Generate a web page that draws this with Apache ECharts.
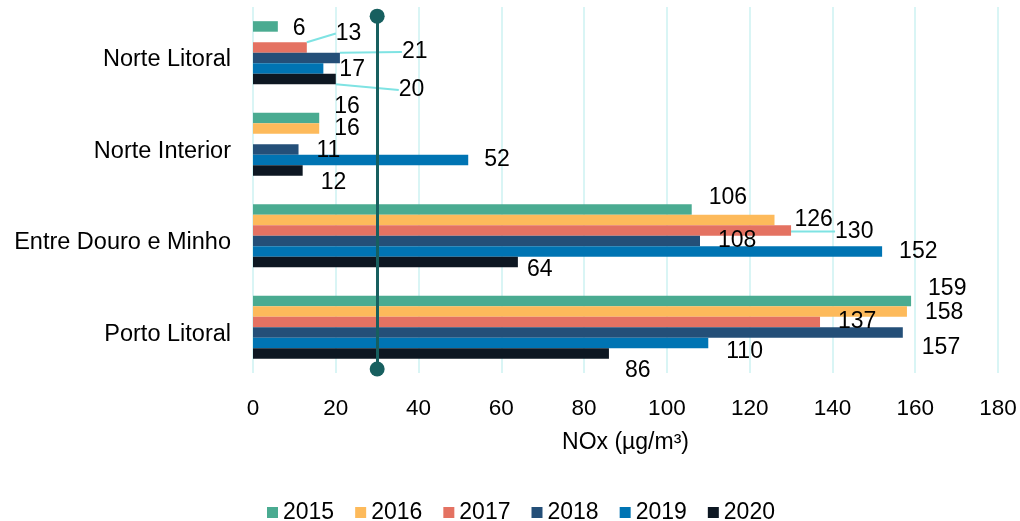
<!DOCTYPE html>
<html><head><meta charset="utf-8">
<script src="https://cdn.jsdelivr.net/npm/echarts@6/dist/echarts.min.js"></script>
<style>html,body{margin:0;padding:0;background:#fff}#c{width:1020px;height:521px}</style>
</head><body><div id="c"></div>
<script>
const categories = ['Norte Litoral', 'Norte Interior', 'Entre Douro e Minho', 'Porto Litoral'];
const years = ['2015', '2016', '2017', '2018', '2019', '2020'];
const v2015 = [6, 16, 106, 159];
const v2016 = [null, 16, 126, 158];
const v2017 = [13, null, 130, 137];
const v2018 = [21, 11, 108, 157];
const v2019 = [17, 52, 152, 110];
const v2020 = [20, 12, 64, 86];
const xTicks = [0, 20, 40, 60, 80, 100, 120, 140, 160, 180];
const limitValue = 30;

const values = [v2015, v2016, v2017, v2018, v2019, v2020];
const colors = ['#4AAB91', '#FDBA5B', '#E47262', '#244F78', '#0074B3', '#0D1722'];
// label nudges [dx, dy] per series / category (layout only)
const labelNudge = [
  [[10, 2], [10, -11], [12, -12], [12, -12]],
  [[0, 0], [10, 0], [15, 0], [13, 1]],
  [[24, -14], [0, 0], [39, 1], [13, 0]],
  [[57, -6], [13, 1], [13, 0], [14, 15]],
  [[11, 1], [11, 0], [12, 0], [13, 9]],
  [[58, 11], [13, 12], [4, 8], [11, 17]]
];
const guided = {'2-0': 1, '3-0': 1, '5-0': 1, '2-2': 1};
const FONT = '"Liberation Sans", Arial, sans-serif';

const series = years.map((y, si) => ({
  name: y,
  type: 'bar',
  barGap: '0%',
  barCategoryGap: '31%',
  itemStyle: {color: colors[si]},
  data: values[si].map((v, ci) => ({
    value: v,
    labelLine: {show: !!guided[si + '-' + ci]}
  })),
  label: {
    show: true, position: 'right', distance: 5,
    color: '#000', fontSize: 23, fontFamily: FONT
  },
  labelLine: {show: false, lineStyle: {color: '#7FE3E3', width: 2}},
  labelLayout: function (p) {
    const n = labelNudge[p.seriesIndex][p.dataIndex];
    return {dx: n[0], dy: n[1]};
  }
}));

// reference (limit) line, drawn on a helper percentage axis
series.push({
  name: 'limit',
  type: 'line',
  yAxisIndex: 1,
  data: [],
  silent: true,
  markLine: {
    silent: true,
    symbol: ['circle', 'circle'],
    symbolSize: 15,
    label: {show: false},
    lineStyle: {color: '#175F5F', width: 3, type: 'solid'},
    data: [[{coord: [limitValue, 2.5]}, {coord: [limitValue, 98.9]}]]
  }
});

const chart = echarts.init(document.getElementById('c'), null, {renderer: 'canvas'});
chart.setOption({
  animation: false,
  textStyle: {fontFamily: FONT},
  grid: {left: 253, right: 22, top: 7, height: 366},
  legend: {
    data: years, top: 496, left: 262,
    icon: 'rect', itemWidth: 11, itemHeight: 11, itemGap: 21,
    textStyle: {fontSize: 23, color: '#000', fontFamily: FONT}
  },
  xAxis: {
    type: 'value', min: 0, max: 180, interval: 20,
    axisLine: {show: false}, axisTick: {show: false},
    splitLine: {lineStyle: {color: '#CDF2F2', width: 1.5}},
    axisLabel: {
      fontSize: 22.5, color: '#000', margin: 24, fontFamily: FONT,
      formatter: v => xTicks.indexOf(v) >= 0 ? String(v) : ''
    },
    name: 'NOx (µg/m³)', nameLocation: 'middle', nameGap: 58,
    nameTextStyle: {fontSize: 23, color: '#000', fontFamily: FONT}
  },
  yAxis: [{
    type: 'category', data: categories, inverse: true,
    axisLine: {show: false}, axisTick: {show: false},
    splitLine: {show: false},
    axisLabel: {
      margin: 22,
      formatter: v => '{a|' + v + '}',
      rich: {a: {fontSize: 23.5, color: '#000', fontFamily: FONT, padding: [14, 0, 0, 0]}}
    }
  }, {
    type: 'value', min: 0, max: 100, inverse: true, show: false
  }],
  series: series
});
</script></body></html>
